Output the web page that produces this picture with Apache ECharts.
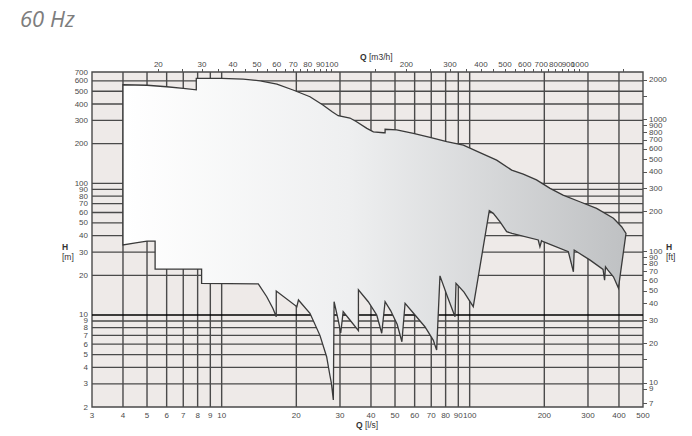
<!DOCTYPE html>
<html><head><meta charset="utf-8">
<script src="https://cdn.jsdelivr.net/npm/echarts@6/dist/echarts.min.js"></script>
<style>html,body{margin:0;padding:0;background:#fff}#c{width:692px;height:436px}</style>
</head><body><div id="c"></div>
<script>
// ---- data ----
const chartTitle = '60 Hz';
const qLabelsLs = [3,4,5,6,7,8,9,10,20,30,40,50,60,70,80,90,100,200,300,400,500];
const qGridLs = [4,5,6,7,8,9,10,20,30,40,50,60,70,80,90,100,200,300,400];
const qLabelsM3h = [20,30,40,50,60,70,80,90,100,200,300,400,500,600,700,800,1000];
const qLabelsM3hCrowded = [900];
const qTicksM3h = [20,25,30,35,40,45,50,55,60,65,70,75,80,85,90,95,100,150,200,250,300,350,400,450,500,550,600,650,700,750,800,850,900,950,1000,1500];
const hLabelsM = [2,3,4,5,6,7,8,9,10,20,30,40,50,60,70,80,90,100,200,300,400,500,600,700];
const hGridM = [3,4,5,6,7,8,9,10,20,30,40,50,60,70,80,90,100,200,300,400,500,600];
const hLabelsFt = [7,8,9,10,20,30,40,50,60,70,80,90,100,200,300,400,500,600,700,800,900,1000,2000];
const hTicksFt = [7,8,9,10,15,20,30,40,50,60,70,80,90,100,200,300,400,500,600,700,800,900,1000,1500,2000];
const hStrongM = [10];
// envelope outline: Q [l/s], H [m] (clockwise from top-left)
const envQ = [4.0,5.0,6.0,7.0,7.9,7.9,10,12.2,14.3,16.7,19.4,22.7,25.6,27.9,29.5,32.9,35.0,38.5,40.9,44.9,45.6,45.6,50.8,59.3,69.2,80.8,94.3,110,128.5,147.7,164.5,186,211,238,278,325,380,410,427,
  398,380,361,353,350,345,306,264,262,250,198,195,192,189,148,141,132.6,124.5,120,103.4,94.9,88.1,87.3,81.8,75.9,73.6,71.3,66.0,60.2,54.9,53.3,51,48,45.6,44.2,42.2,39.0,35.6,35.6,32.9,30.9,30.2,29.5,28.4,28.2,27.7,27.3,26.5,24.9,22.7,20.4,20.1,16.6,16.6,16.1,15.2,14.05,8.3,8.3,5.39,5.39,5.0,4.5,4.0];
const envH = [560,555,541,526,513,626,626,618,600,567,511,454,393,349,326,313,293,261,246,242,242,257,254,239,223,207,195,171,150,126,117.5,106,91.5,81.4,72.4,64.5,54.2,46.8,41.7,
  16.0,19.5,21.9,23.2,18.4,22.2,26.1,31.1,21.3,30.2,36.0,36.6,33.0,37.1,41.7,42.9,51,59.1,61.9,11.55,14.9,17.4,9.7,13.4,19.8,5.42,6.45,8.14,10.0,12.26,6.26,8.5,10.8,12.6,7.26,10.0,12.6,15.5,7.6,9.16,10.6,7.3,9.16,12.6,2.26,3.03,3.5,4.82,7.0,10.3,13.0,11.55,15.2,9.7,11.2,13.75,17.2,17.4,22.3,22.3,36.4,36.4,35.3,34.0];

const Q_MIN = 3, Q_MAX = 500, H_MIN = 2, H_MAX = 700;
const M3H_PER_LS = 3.6, FT_PER_M = 3.28084;

const chart = echarts.init(document.getElementById('c'), null, {renderer: 'svg'});
const fmt = v => String(Math.round(v));
const labelFont = {fontFamily: 'Liberation Sans, Arial, sans-serif', fontSize: 8, color: '#4a4a4a', formatter: fmt,
  hideOverlap: false, interval: 0, showMinLabel: true, showMaxLabel: true};
const fillGrad = new echarts.graphic.LinearGradient(0, 0, 1, 0, [
  {offset: 0, color: '#ffffff'},
  {offset: 0.45, color: '#eeeff0'},
  {offset: 1, color: '#bfc1c3'}
]);
const nameStyle = {fontSize: 8.5, fontFamily: 'Liberation Sans', fill: '#333'};
const boldRich = {b: {fontWeight: 'bold', fontSize: 8.5, fontFamily: 'Liberation Sans', fill: '#333'}};

chart.setOption({
  animation: false,
  title: {text: chartTitle, left: 15, top: 2,
    textStyle: {fontFamily: 'Open Sans', fontStyle: 'italic', fontWeight: 'normal', fontSize: 22, color: '#7d7d7d'}},
  grid: {left: 92, right: 49, top: 72, bottom: 29, show: true, backgroundColor: '#eeeae8', borderColor: '#4a4a4a', borderWidth: 1.4},
  xAxis: [
    {type: 'log', logBase: 10, min: Q_MIN, max: Q_MAX, position: 'bottom',
      axisLine: {show: false}, splitLine: {show: false},
      axisTick: {show: false, customValues: qLabelsLs},
      axisLabel: Object.assign({customValues: qLabelsLs, margin: 4}, labelFont)},
    {type: 'log', logBase: 10, min: Q_MIN * M3H_PER_LS, max: Q_MAX * M3H_PER_LS, position: 'top', offset: 0,
      axisLine: {show: false}, splitLine: {show: false},
      axisTick: {show: true, length: 3, customValues: qTicksM3h, lineStyle: {color: '#555'}},
      axisLabel: Object.assign({customValues: qLabelsM3h, margin: 4}, labelFont)},
    {type: 'log', logBase: 10, min: Q_MIN * M3H_PER_LS, max: Q_MAX * M3H_PER_LS, position: 'top', offset: 0,
      axisLine: {show: false}, splitLine: {show: false},
      axisTick: {show: false, customValues: qLabelsM3hCrowded},
      axisLabel: Object.assign({customValues: qLabelsM3hCrowded, margin: 4}, labelFont)}
  ],
  yAxis: [
    {type: 'log', logBase: 10, min: H_MIN, max: H_MAX, position: 'left',
      axisLine: {show: false}, splitLine: {show: false},
      axisTick: {show: false, customValues: hLabelsM},
      axisLabel: Object.assign({customValues: hLabelsM, margin: 4}, labelFont)},
    {type: 'log', logBase: 10, min: H_MIN * FT_PER_M, max: H_MAX * FT_PER_M, position: 'right',
      axisLine: {show: false}, splitLine: {show: false},
      axisTick: {show: true, length: 4, customValues: hTicksFt, lineStyle: {color: '#555'}},
      axisLabel: Object.assign({customValues: hLabelsFt, margin: 6}, labelFont)}
  ],
  graphic: [
    {type: 'text', left: 360, top: 52, style: Object.assign({text: '{b|Q} [m3/h]', rich: boldRich}, nameStyle)},
    {type: 'text', left: 356, top: 420, style: Object.assign({text: '{b|Q} [l/s]', rich: boldRich}, nameStyle)},
    {type: 'text', left: 62, top: 242, style: Object.assign({text: '{b|H}\n[m]', lineHeight: 10, rich: boldRich}, nameStyle)},
    {type: 'text', left: 666, top: 242, style: Object.assign({text: '{b|H}\n[ft]', lineHeight: 10, rich: boldRich}, nameStyle)}
  ],
  series: [
    {type: 'custom', name: 'vgrid', xAxisIndex: 0, yAxisIndex: 0, z: 1, silent: true,
      data: qGridLs.map(v => [v, H_MIN]),
      renderItem: function (params, api) {
        const a = api.coord([api.value(0), H_MIN]);
        const b = api.coord([api.value(0), H_MAX]);
        return {type: 'line', shape: {x1: a[0], y1: a[1], x2: b[0], y2: b[1]}, style: {stroke: '#4a4a4a', lineWidth: 1.4}};
      }},
    {type: 'custom', name: 'hgrid', xAxisIndex: 0, yAxisIndex: 0, z: 1, silent: true,
      data: hGridM.map(v => [Q_MIN, v]),
      renderItem: function (params, api) {
        const h = api.value(1);
        const a = api.coord([Q_MIN, h]);
        const b = api.coord([Q_MAX, h]);
        const strong = hStrongM.indexOf(h) >= 0;
        return {type: 'line', shape: {x1: a[0], y1: a[1], x2: b[0], y2: b[1]}, style: {stroke: strong ? '#000' : '#4a4a4a', lineWidth: strong ? 1.5 : 1.3}};
      }},
    {type: 'custom', name: 'envelope', xAxisIndex: 0, yAxisIndex: 0, z: 3, silent: true,
      data: [[envQ[0], envH[0]]],
      renderItem: function (params, api) {
        const pts = envQ.map((q, i) => api.coord([q, envH[i]]));
        return {type: 'polygon', shape: {points: pts}, style: {fill: fillGrad, stroke: '#3a3a3a', lineWidth: 1.3, lineJoin: 'miter'}};
      }}
  ]
});
</script>
</body></html>
